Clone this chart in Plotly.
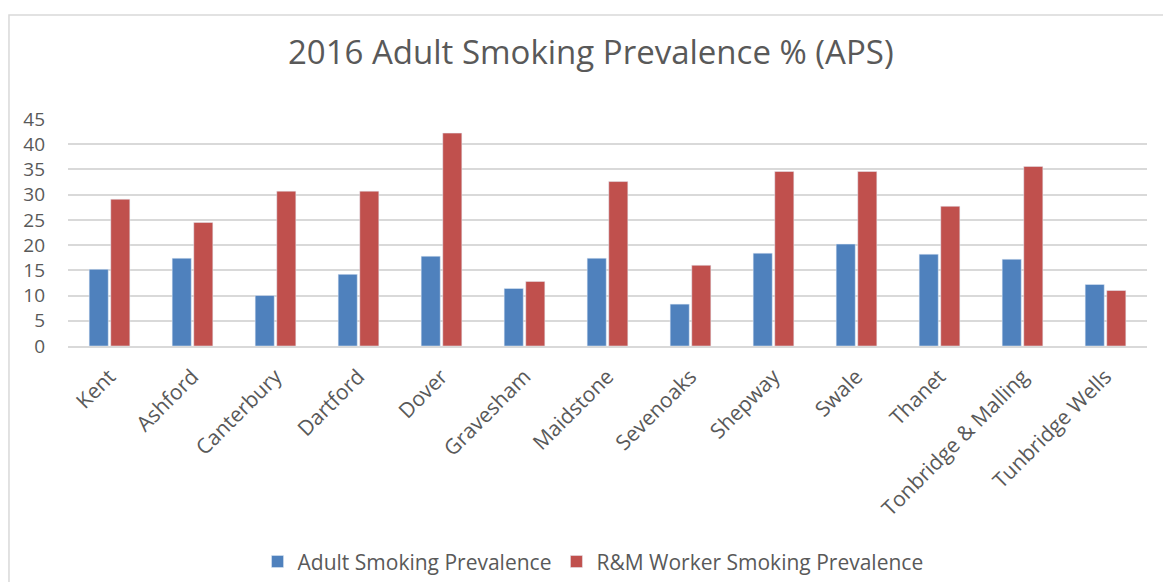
import plotly.graph_objects as go

categories = ["Kent", "Ashford", "Canterbury", "Dartford", "Dover", "Gravesham", "Maidstone",
              "Sevenoaks", "Shepway", "Swale", "Thanet", "Tonbridge & Malling", "Tunbridge Wells"]
adult = [15.2, 17.4, 10.0, 14.2, 17.8, 11.4, 17.4, 8.3, 18.4, 20.2, 18.2, 17.2, 12.2]
rm_worker = [29.1, 24.5, 30.7, 30.7, 42.2, 12.8, 32.6, 16.0, 34.6, 34.6, 27.7, 35.6, 11.0]
y_ticks = [0, 5, 10, 15, 20, 25, 30, 35, 40, 45]

FONT = "Open Sans"
GREY = "#595959"

fig = go.Figure()
fig.add_trace(go.Bar(x=categories, y=adult, name="Adult Smoking Prevalence", marker_color="#4f81bd"))
fig.add_trace(go.Bar(x=categories, y=rm_worker, name="R&M Worker Smoking Prevalence", marker_color="#c0504d"))

fig.update_layout(
    width=1163, height=582,
    margin=dict(l=68, r=16, t=119, b=236, autoexpand=False),
    paper_bgcolor="white", plot_bgcolor="white",
    barmode="group", bargap=0.48, bargroupgap=0.116,
    font=dict(family=FONT, color=GREY, size=21),
    title=dict(text="2016 Adult Smoking Prevalence % (APS)", x=0.508, xref="container",
               y=1 - 52 / 582, yref="container", yanchor="middle", xanchor="center",
               font=dict(size=33, color=GREY, family=FONT)),
    legend=dict(orientation="h", x=0.4866, xanchor="center", y=-0.951, yanchor="middle",
                font=dict(size=21, color=GREY), itemwidth=30, traceorder="normal"),
    xaxis=dict(tickangle=-45, showline=True, linecolor="#d9d9d9", linewidth=2,
               ticks="", ticklabelstandoff=8, tickfont=dict(size=21, color=GREY)),
    yaxis=dict(range=[0, 45], tickvals=y_ticks, showgrid=True, gridcolor="#d9d9d9", gridwidth=1.5,
               zeroline=False, showline=False, ticklabelstandoff=22,
               tickfont=dict(size=19, color=GREY)),
    shapes=[dict(type="rect", xref="paper", yref="paper", x0=-0.0547, x1=1.03, y0=-1.12, y1=1.458,
                 line=dict(color="#d9d9d9", width=1.5), fillcolor="rgba(0,0,0,0)", layer="below")],
)

fig.write_html("out.html")
